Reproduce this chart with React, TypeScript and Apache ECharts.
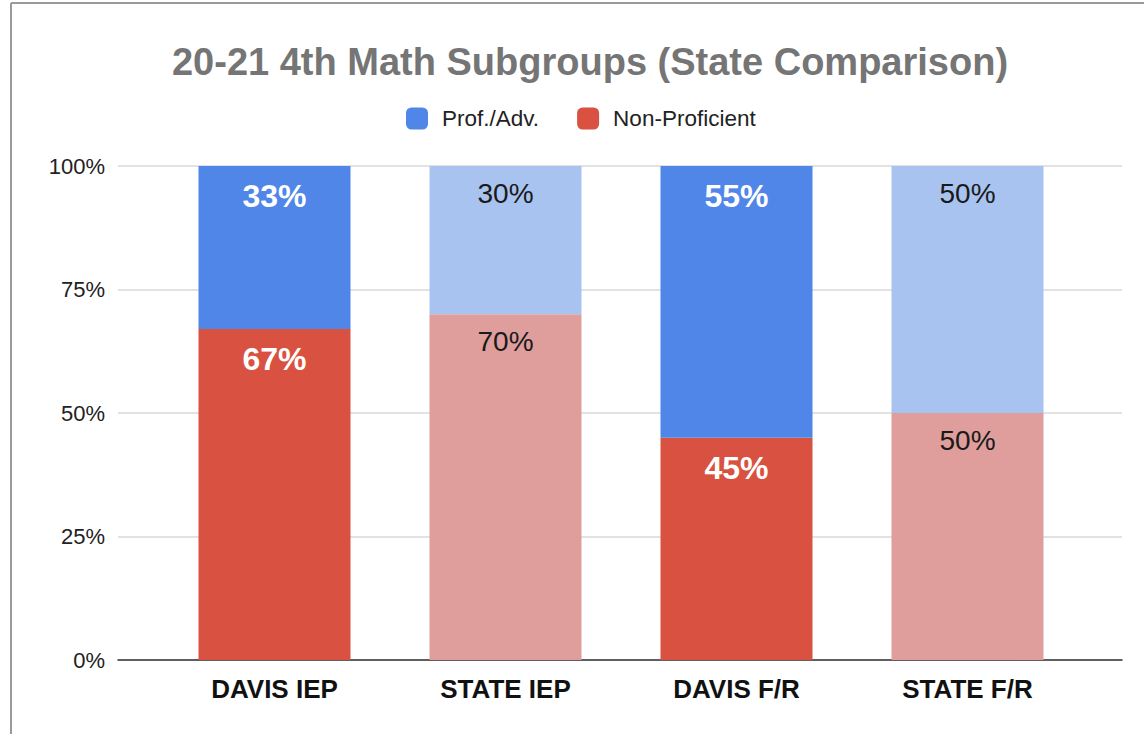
import React, { useEffect, useRef } from "react";
import * as echarts from "echarts";

const categories = ["DAVIS IEP", "STATE IEP", "DAVIS F/R", "STATE F/R"];
const profAdv = [33, 30, 55, 50];
const nonProf = [67, 70, 45, 50];
const yTicks = [0, 25, 50, 75, 100];
const isDavis = [true, false, true, false];

const BLUE = "#4f86e8";
const BLUE_LIGHT = "#a9c3f0";
const RED = "#d95140";
const RED_LIGHT = "#df9e9c";
const FONT = "Liberation Sans, Arial, sans-serif";

export default function App() {
  const ref = useRef<HTMLDivElement>(null);
  useEffect(() => {
    if (!ref.current) return;
    const chart = echarts.init(ref.current, undefined, { renderer: "svg" });
    const mkData = (vals: number[], dark: string, light: string) =>
      vals.map((v, i) => ({
        value: v,
        itemStyle: { color: isDavis[i] ? dark : light },
        label: {
          color: isDavis[i] ? "#ffffff" : "#1a1a1a",
          fontWeight: isDavis[i] ? "bold" : "normal",
          fontSize: isDavis[i] ? 32 : 28,
          distance: isDavis[i] ? 14 : 13,
        },
      }));
    const labelBase = {
      show: true,
      position: "insideTop",
      distance: 14,
      fontSize: 28,
      fontFamily: FONT,
      formatter: (p: any) => p.value + "%",
    };
    chart.setOption({
      animation: false,
      backgroundColor: "#ffffff",
      textStyle: { fontFamily: FONT },
      title: {
        text: "20-21 4th Math Subgroups (State Comparison)",
        left: 585,
        textAlign: "center",
        top: 38,
        textStyle: { fontSize: 38, fontWeight: "bold", color: "#757575", fontFamily: FONT },
      },
      legend: {
        data: ["Prof./Adv.", "Non-Proficient"],
        left: 401,
        top: 102,
        itemWidth: 22,
        itemHeight: 22,
        itemGap: 38,
        icon: "roundRect",
        textStyle: { fontSize: 22.5, color: "#222222", fontFamily: FONT, padding: [0, 0, 0, 9] },
      },
      graphic: [
        { type: "line", shape: { x1: 11, y1: 3, x2: 1144, y2: 3 }, style: { stroke: "#9a9a9a", lineWidth: 2 } },
        { type: "line", shape: { x1: 11, y1: 3, x2: 11, y2: 734 }, style: { stroke: "#9a9a9a", lineWidth: 2 } },
      ],
      grid: [
        { left: 118, top: 166, width: 1004, height: 494 },
        { left: 159, top: 166, width: 924, height: 494 },
      ],
      xAxis: [
        {
          type: "value",
          gridIndex: 0,
          min: 0,
          max: 1,
          axisLine: { show: true, onZero: false, lineStyle: { color: "#333333", width: 1.5 } },
          axisTick: { show: false },
          axisLabel: { show: false },
          splitLine: { show: false },
        },
        {
          type: "category",
          gridIndex: 1,
          data: categories,
          axisLine: { show: false },
          axisTick: { show: false },
          axisLabel: { fontSize: 26, fontWeight: "bold", color: "#111111", margin: 16, fontFamily: FONT },
        },
      ],
      yAxis: [
        {
          type: "value",
          gridIndex: 0,
          min: 0,
          max: 100,
          interval: 25,
          axisLine: { show: false },
          axisTick: { show: false },
          axisLabel: {
            fontSize: 22,
            color: "#222222",
            margin: 13,
            fontFamily: FONT,
            formatter: (v: number) => (yTicks.includes(v) ? v + "%" : ""),
          },
          splitLine: { show: true, lineStyle: { color: "#d9d9d9", width: 1.5 } },
        },
        {
          type: "value",
          gridIndex: 1,
          min: 0,
          max: 100,
          show: false,
          splitLine: { show: false },
        },
      ],
      series: [
        {
          name: "Non-Proficient",
          type: "bar",
          stack: "total",
          xAxisIndex: 1,
          yAxisIndex: 1,
          barWidth: 152,
          itemStyle: { color: RED },
          label: labelBase,
          data: mkData(nonProf, RED, RED_LIGHT),
        },
        {
          name: "Prof./Adv.",
          type: "bar",
          stack: "total",
          xAxisIndex: 1,
          yAxisIndex: 1,
          barWidth: 152,
          itemStyle: { color: BLUE },
          label: labelBase,
          data: mkData(profAdv, BLUE, BLUE_LIGHT),
        },
      ],
    });
    return () => chart.dispose();
  }, []);
  return (
    <div
      ref={ref}
      style={{ position: "fixed", left: 0, top: 0, width: 1144, height: 734 }}
    />
  );
}
